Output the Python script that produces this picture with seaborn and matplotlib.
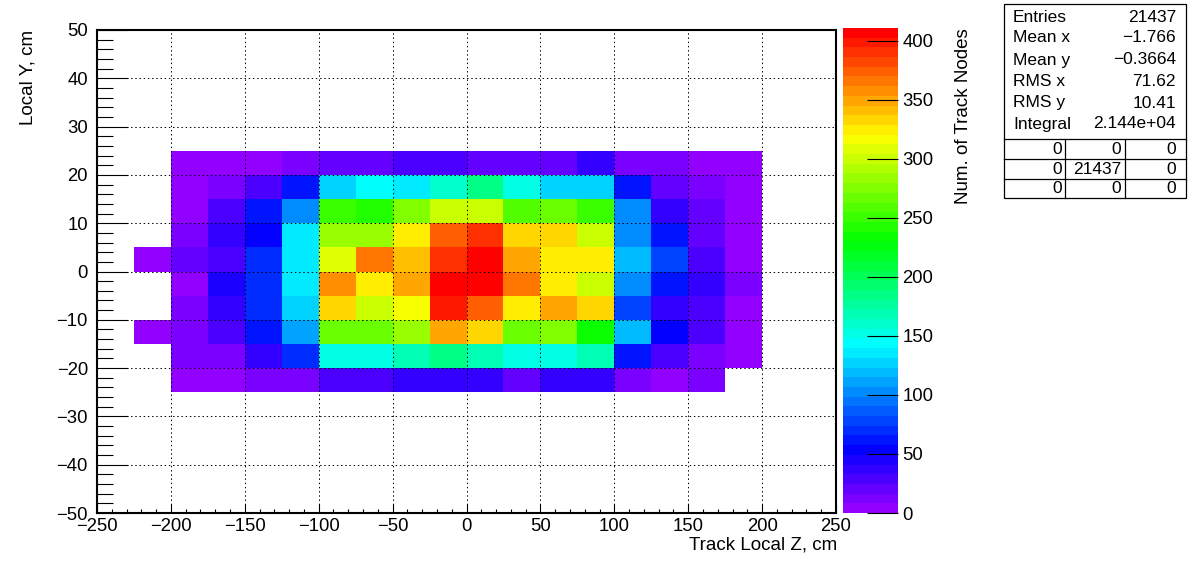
import colorsys
import numpy as np
import pandas as pd
import matplotlib
matplotlib.use("Agg")
import matplotlib.pyplot as plt
from matplotlib.colors import ListedColormap
from matplotlib.ticker import MultipleLocator
from matplotlib.patches import Rectangle
import seaborn as sns

# ---------------- data ----------------
z_edges = list(range(-225, 201, 25))      # 17 bins, -225 .. 200
y_edges = list(range(-25, 26, 5))         # 10 bins, -25 .. 25

# rows from top (y 20..25) to bottom (y -25..-20); columns: z bins -225 .. 175 (low edges)
row_y20 = [0, 5, 5, 5, 13, 20, 20, 29, 29, 20, 20, 20, 37, 13, 13, 5, 5]
row_y15 = [0, 5, 13, 29, 62, 128, 143, 133, 158, 181, 153, 128, 128, 62, 20, 13, 5]
row_y10 = [0, 5, 29, 62, 102, 253, 242, 275, 300, 300, 258, 268, 253, 102, 38, 20, 5]
row_y05 = [0, 13, 38, 54, 136, 287, 287, 328, 375, 392, 333, 336, 300, 102, 62, 20, 5]
row_y00 = [5, 20, 29, 70, 136, 308, 367, 341, 392, 411, 353, 326, 326, 121, 78, 32, 5]
row_ym05 = [0, 5, 45, 70, 136, 360, 326, 350, 408, 408, 367, 326, 300, 105, 64, 37, 13]
row_ym10 = [0, 13, 37, 70, 128, 336, 300, 320, 400, 375, 326, 350, 336, 78, 37, 29, 5]
row_ym15 = [5, 13, 32, 62, 112, 268, 268, 287, 350, 333, 268, 278, 231, 121, 54, 25, 5]
row_ym20 = [0, 13, 13, 37, 70, 153, 153, 170, 181, 170, 153, 153, 165, 64, 29, 13, 5]
row_ym25 = [0, 5, 5, 13, 13, 32, 32, 37, 37, 37, 20, 37, 37, 13, 5, 12, 0]
rows_top_to_bottom = [row_y20, row_y15, row_y10, row_y05, row_y00,
                      row_ym05, row_ym10, row_ym15, row_ym20, row_ym25]

z_max = 411
cbar_ticks = list(range(0, 401, 50))

x_title = "Track Local Z, cm"
y_title = "Local Y, cm"
z_title = "Num. of Track Nodes"

stat_names = ["Entries", "Mean x", "Mean y", "RMS x", "RMS y", "Integral"]
stat_values = ["21437", "\u22121.766", "\u22120.3664", "71.62", "10.41", "2.144e+04"]
overflow_table = [["0", "0", "0"], ["0", "21437", "0"], ["0", "0", "0"]]

# ---------------- build long table ----------------
recs = []
n_rows = len(rows_top_to_bottom)
for r, row in enumerate(rows_top_to_bottom):
    ylo = y_edges[n_rows - 1 - r]
    yc = ylo + 2.5
    for c, v in enumerate(row):
        zc = z_edges[c] + 12.5
        recs.append((zc, yc, v))
df = pd.DataFrame(recs, columns=["z", "y", "n"])

# ROOT "pretty" rainbow palette (50 levels)
n_levels = 50
pal = [colorsys.hls_to_rgb((280 - (i + 1) * 280 / n_levels) / 360.0, 0.5, 1.0)
       for i in range(n_levels)]
cmap = ListedColormap(pal)

plt.rcParams['font.family'] = ['Liberation Sans', 'DejaVu Sans']

W, H = 1196, 572
fig = plt.figure(figsize=(W / 100, H / 100), dpi=100)
fig.patch.set_facecolor("white")

ax = fig.add_axes([97 / W, (H - 513) / H, (836 - 97) / W, (513 - 30) / H])
cax = fig.add_axes([843 / W, (H - 513) / H, (898 - 843) / W, (513 - 28) / H])

sns.histplot(data=df, x="z", y="y", weights="n", bins=(z_edges, y_edges),
             cmap=cmap, cbar=False, ax=ax)
mesh = ax.collections[0]
mesh.set_clim(0, z_max)

ax.set_xlim(-250, 250)
ax.set_ylim(-50, 50)
ax.set_xlabel("")
ax.set_ylabel("")
ax.xaxis.set_major_locator(MultipleLocator(50))
ax.xaxis.set_minor_locator(MultipleLocator(10))
ax.yaxis.set_major_locator(MultipleLocator(10))
ax.yaxis.set_minor_locator(MultipleLocator(2))
ax.tick_params(axis="x", which="major", direction="in", length=6.5, width=0.8,
               pad=3.6, labelsize=13.3, top=False)
ax.tick_params(axis="x", which="minor", direction="in", length=3.2, width=0.8, top=False)
ax.tick_params(axis="y", which="major", direction="in", length=22.3, width=0.8,
               pad=6.5, labelsize=13.3, right=False)
ax.tick_params(axis="y", which="minor", direction="in", length=11.3, width=0.8, right=False)
ax.grid(True, which="major", color="black", linestyle=(0, (1.4, 2.8)), linewidth=0.72)
ax.grid(False, which="minor")
ax.set_axisbelow(False)
for s in ax.spines.values():
    s.set_linewidth(1.5)
    s.set_color("black")

fig.text(837 / W, 1 - 545 / H, x_title, ha="right", va="center", fontsize=13.5)
fig.text(28 / W, 1 - 30 / H, y_title, ha="center", va="top", rotation=90, fontsize=13.5)

cb = fig.colorbar(mesh, cax=cax, ticks=cbar_ticks)
cb.outline.set_visible(False)
cb.minorticks_off()
cax.tick_params(direction="in", length=22.3, width=0.8, pad=3, labelsize=13.3,
                color="black", right=True, left=False)
fig.text(964 / W, 1 - 28 / H, z_title, ha="center", va="top", rotation=90, fontsize=13.5)

# ---------------- stats box ----------------
bx0, by0, bx1, by1 = 1004, 3, 1186, 198
sax = fig.add_axes([bx0 / W, 1 - by1 / H, (bx1 - bx0) / W, (by1 - by0) / H])
sax.set_xlim(bx0, bx1)
sax.set_ylim(by1, by0)
sax.axis("off")
sax.add_patch(Rectangle((bx0 + 0.5, by0 + 0.5), bx1 - bx0 - 1, by1 - by0 - 1,
                        fill=True, facecolor="white", edgecolor="black", linewidth=0.9,
                        clip_on=False))
row_ys = [17, 38, 60, 81, 103, 124]
for yy, name, val in zip(row_ys, stat_names, stat_values):
    sax.text(1013, yy, name, ha="left", va="center", fontsize=12.5)
    sax.text(1176, yy, val, ha="right", va="center", fontsize=12.5)
sep = [139, 159, 179]
for yy in sep:
    sax.plot([bx0, bx1], [yy, yy], color="black", lw=0.9, clip_on=False)
for xx in [1065, 1125]:
    sax.plot([xx, xx], [139, by1], color="black", lw=0.9, clip_on=False)
cell_y = [149, 169, 188.5]
cell_right = [1062, 1121, 1176]
for yy, rowvals in zip(cell_y, overflow_table):
    for xx, t in zip(cell_right, rowvals):
        sax.text(xx, yy, t, ha="right", va="center", fontsize=12.5)

fig.savefig("out.png", dpi=100)
